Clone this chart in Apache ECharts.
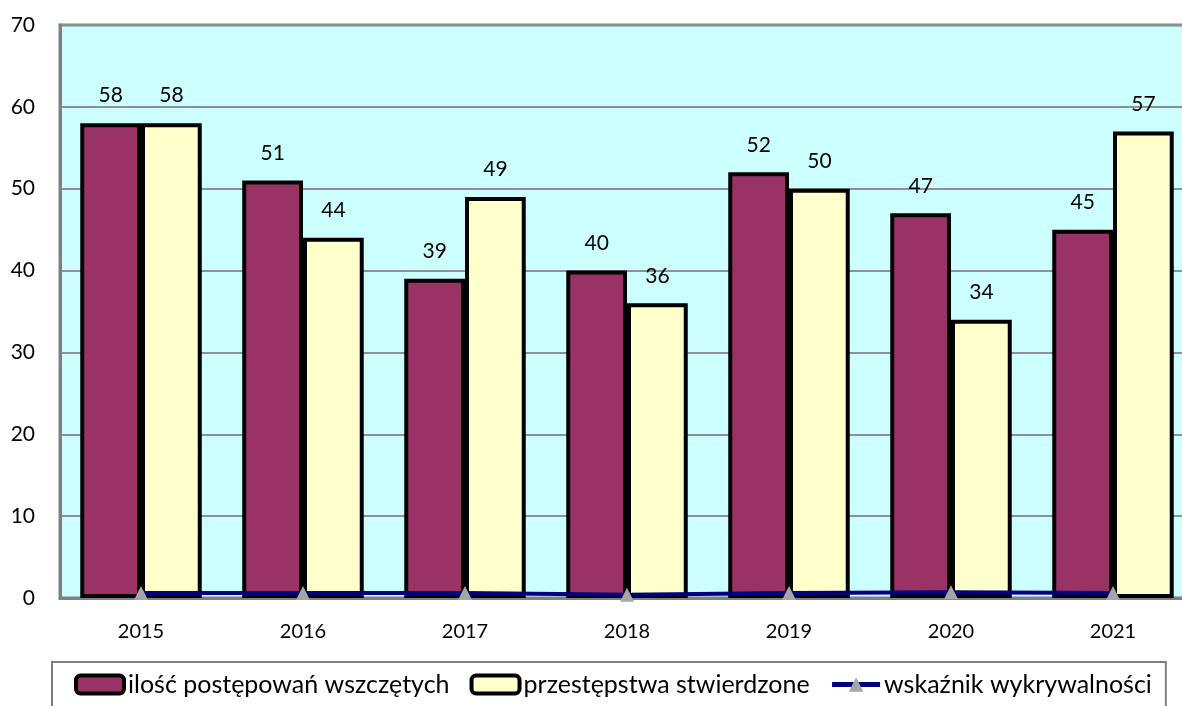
<!DOCTYPE html>
<html>
<head>
<meta charset="utf-8">
<script src="https://cdn.jsdelivr.net/npm/echarts@6/dist/echarts.min.js"></script>
<style>
html,body{margin:0;padding:0;background:#fff;}
#chart{width:1182px;height:706px;}
</style>
</head>
<body>
<div id="chart"></div>
<script>
// lata
var years = ['2015', '2016', '2017', '2018', '2019', '2020', '2021'];
// ilość postępowań wszczętych
var wszczete = [58, 51, 39, 40, 52, 47, 45];
// przestępstwa stwierdzone
var stwierdzone = [58, 44, 49, 36, 50, 34, 57];
// wskaźnik wykrywalności (bliski zeru na tej skali)
var wskaznik = [0.6, 0.6, 0.6, 0.4, 0.6, 0.7, 0.6];

var fontName = 'Lato, "Noto Sans", sans-serif';

var myChart = echarts.init(document.getElementById('chart'));
myChart.setOption({
	animation: false,
	textStyle: {fontFamily: fontName},
	grid: {
		left: 60, top: 25, width: 1134, bottom: 108,
		outerBoundsMode: 'none',
		containLabel: false,
		show: true,
		backgroundColor: '#CCFFFF',
		borderColor: '#808080',
		borderWidth: 3
	},
	legend: {
		left: 52, top: 662,
		width: 1110,
		padding: [10, 14, 30, 22],
		borderColor: '#808080',
		borderWidth: 2,
		itemGap: 20,
		itemWidth: 48,
		itemHeight: 18,
		itemStyle: {borderWidth: 4},
		lineStyle: {width: 5},
		textStyle: {fontSize: 25, color: '#000', fontFamily: fontName, padding: [0, 0, 0, -1]},
		data: ['ilość postępowań wszczętych', 'przestępstwa stwierdzone', 'wskaźnik wykrywalności']
	},
	xAxis: {
		type: 'category',
		data: years,
		axisLine: {lineStyle: {color: '#808080', width: 3}},
		axisTick: {show: false},
		axisLabel: {fontSize: 20, color: '#000', margin: 24}
	},
	yAxis: {
		type: 'value',
		min: 0, max: 70, interval: 10,
		axisLine: {show: true, lineStyle: {color: '#808080', width: 3}},
		axisTick: {show: false},
		axisLabel: {fontSize: 21, color: '#000', margin: 25},
		splitLine: {lineStyle: {color: '#909090', width: 2}}
	},
	series: [{
		name: 'ilość postępowań wszczętych',
		type: 'bar',
		data: wszczete,
		barGap: '0%',
		barCategoryGap: '25%',
		itemStyle: {color: '#993366', borderColor: '#000', borderWidth: 4},
		label: {show: true, position: 'top', distance: 17, fontSize: 21, color: '#000'}
	}, {
		name: 'przestępstwa stwierdzone',
		type: 'bar',
		data: stwierdzone,
		itemStyle: {color: '#FFFFCC', borderColor: '#000', borderWidth: 4},
		label: {show: true, position: 'top', distance: 17, fontSize: 21, color: '#000'}
	}, {
		name: 'wskaźnik wykrywalności',
		type: 'line',
		data: wskaznik,
		z: 5,
		symbol: 'triangle',
		symbolSize: 14,
		lineStyle: {color: '#000080', width: 4},
		itemStyle: {color: '#A6A6A6', borderWidth: 0}
	}]
});
</script>
</body>
</html>
